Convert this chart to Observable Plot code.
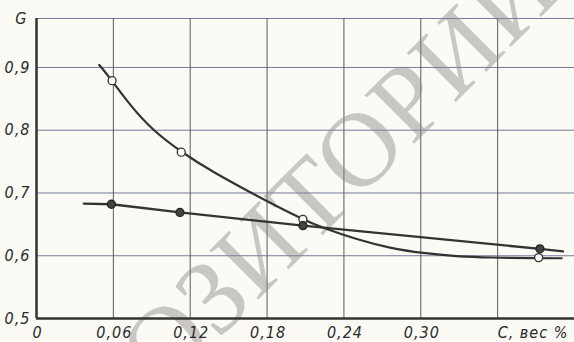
<!DOCTYPE html>
<html><head><meta charset="utf-8">
<script src="https://cdn.jsdelivr.net/npm/d3@7"></script>
<script src="https://cdn.jsdelivr.net/npm/@observablehq/plot@0.6"></script>
<style>html,body{margin:0;padding:0;background:#fbfaf5;}</style>
</head><body><div id="chart"></div>
<script>
// Curve with open circles
const curveX = [0.049, 0.059, 0.073, 0.090, 0.113, 0.138, 0.165, 0.190, 0.208, 0.224, 0.250, 0.276, 0.302, 0.328, 0.354, 0.392, 0.410];
const curveY = [0.904, 0.879, 0.840, 0.801, 0.765, 0.733, 0.703, 0.676, 0.658, 0.644, 0.626, 0.612, 0.604, 0.599, 0.597, 0.596, 0.596];
const openX = [0.059, 0.113, 0.208, 0.392];
const openY = [0.879, 0.765, 0.658, 0.597];
// Straight line with filled circles
const lineX = [0.037, 0.0585, 0.112, 0.208, 0.393, 0.411];
const lineY = [0.683, 0.682, 0.669, 0.648, 0.611, 0.607];
const filledX = [0.0585, 0.112, 0.208, 0.393];
const filledY = [0.682, 0.669, 0.648, 0.611];

const xTicks = [0, 0.06, 0.12, 0.18, 0.24, 0.30];
const xGrid = [0.06, 0.12, 0.18, 0.24, 0.30, 0.36];
const yTicks = [0.5, 0.6, 0.7, 0.8, 0.9];
const yGrid = [0.6, 0.7, 0.8, 0.9];
const yTop = 0.978;
const yLabel = "G";
const xUnitPos = [0.36];
const xUnitLabel = "C, вес %";
const watermark = "РЕПОЗИТОРИЙ";

const curve = curveX.map((x, i) => ({x, y: curveY[i]}));
const open = openX.map((x, i) => ({x, y: openY[i]}));
const line = lineX.map((x, i) => ({x, y: lineY[i]}));
const filled = filledX.map((x, i) => ({x, y: filledY[i]}));

const fx = d => d === 0 ? "0" : d3.format(".2f")(d).replace(".", ",");
const fy = d => d3.format(".1f")(d).replace(".", ",");
const tickFont = {fontSize: 16, fill: "#2a2a2a", label: null};

const chart = Plot.plot({
  width: 574, height: 342,
  marginLeft: 36, marginRight: 0, marginTop: 18, marginBottom: 24,
  x: {domain: [0, 0.42], label: null},
  y: {domain: [0.5, yTop], label: null},
  style: {background: "#fbfaf5", fontFamily: "'Liberation Sans Narrow', 'DejaVu Sans Condensed', sans-serif", fontStyle: "italic", letterSpacing: "1px"},
  marks: [
    Plot.ruleY(yGrid, {stroke: "#767b9c", strokeWidth: 1}),
    Plot.ruleY([yTop], {stroke: "#767b9c", strokeWidth: 1}),
    Plot.ruleX(xGrid, {stroke: "#5a5a5a", strokeWidth: 1}),
    Plot.text([watermark], {frameAnchor: "top-left", dx: 231, dy: 224, rotate: -45, fontSize: 106, fontFamily: "'Liberation Serif', serif", fontStyle: "normal", fill: "#8a8a8a", fillOpacity: 0.45, textAnchor: "middle", lineAnchor: "middle"}),
    Plot.ruleX([0], {stroke: "#333", strokeWidth: 2.5}),
    Plot.ruleY([0.5], {stroke: "#333", strokeWidth: 2.5}),
    Plot.axisY(yTicks, {...tickFont, tickSize: 0, tickPadding: 6, tickFormat: fy}),
    Plot.axisY([yTop], {...tickFont, tickSize: 0, tickPadding: 9, tickFormat: () => yLabel}),
    Plot.axisX(xTicks, {...tickFont, tickSize: 0, tickPadding: 8, tickFormat: fx, dx: 1}),
    Plot.axisX(xUnitPos, {...tickFont, tickSize: 0, tickPadding: 8, tickFormat: () => xUnitLabel, textAnchor: "start"}),
    Plot.line(curve, {x: "x", y: "y", curve: "basis", stroke: "#333", strokeWidth: 2.2}),
    Plot.line(line, {x: "x", y: "y", stroke: "#333", strokeWidth: 2.4}),
    Plot.dot(open, {x: "x", y: "y", r: 4, fill: "white", stroke: "#333", strokeWidth: 1.3}),
    Plot.dot(filled, {x: "x", y: "y", r: 4, fill: "#444", stroke: "#222", strokeWidth: 1.3})
  ]
});
document.getElementById("chart").appendChild(chart);
</script>
</body></html>
